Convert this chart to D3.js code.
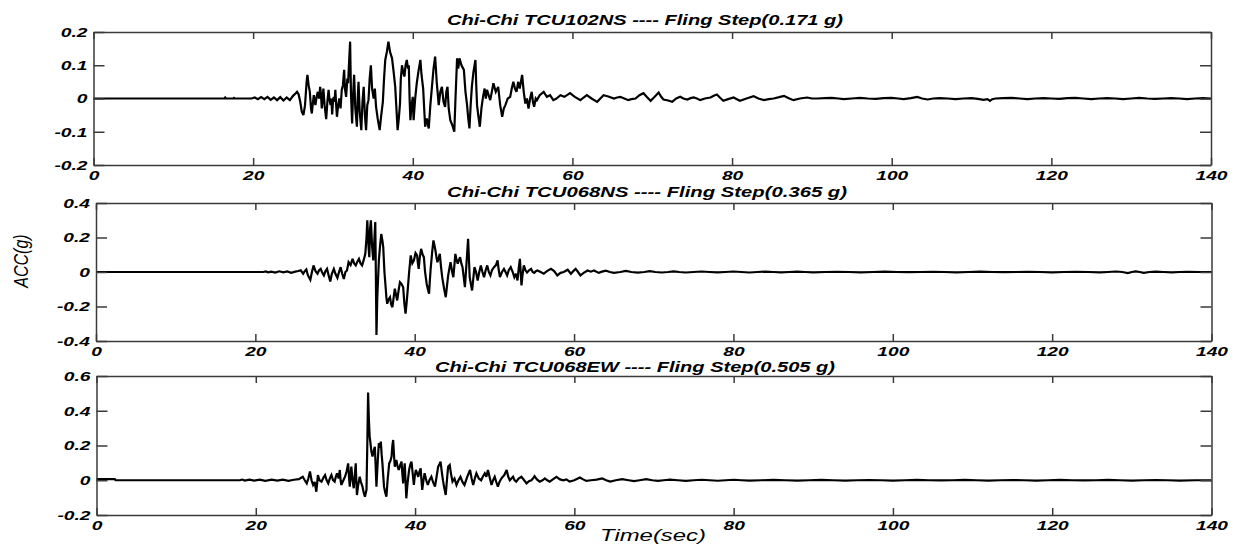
<!DOCTYPE html>
<html>
<head>
<meta charset="utf-8">
<script src="https://cdn.jsdelivr.net/npm/d3@7"></script>
<style>
  html, body { margin: 0; padding: 0; background: #ffffff; }
  svg { display: block; }
  .tick text { font-family: "Liberation Sans", Arial, sans-serif; font-weight: bold; font-style: italic; font-size: 12px; fill: #000; }
</style>
</head>
<body>
<script>
// ---- Data: ground acceleration records (time in s, acceleration in g) ----
const timeTicks = [0, 20, 40, 60, 80, 100, 120, 140];
const timeTickLabels = ["0", "20", "40", "60", "80", "100", "120", "140"];

const titles = [
  "Chi-Chi TCU102NS ---- Fling Step(0.171 g)",
  "Chi-Chi TCU068NS ---- Fling Step(0.365 g)",
  "Chi-Chi TCU068EW ---- Fling Step(0.505 g)"
];

const accTicks102NS = [-0.2, -0.1, 0, 0.1, 0.2];
const accTickLabels102NS = ["-0.2", "-0.1", "0", "0.1", "0.2"];
const accTicks068NS = [-0.4, -0.2, 0, 0.2, 0.4];
const accTickLabels068NS = ["-0.4", "-0.2", "0", "0.2", "0.4"];
const accTicks068EW = [-0.2, 0, 0.2, 0.4, 0.6];
const accTickLabels068EW = ["-0.2", "0", "0.2", "0.4", "0.6"];

const tcu102NS = [
  [0, 0], [16.4, 0], [16.5, 0.003], [16.6, 0], [17.5, 0], [17.6, 0.002], [17.7, 0], [19.8, 0],
  [20.2, 0.003], [20.6, -0.002], [21.0, 0.004], [21.4, -0.002], [21.8, 0.005], [22.2, -0.004],
  [22.6, 0.003], [23.0, -0.005], [23.4, 0.004], [23.8, -0.006], [24.2, 0.003], [24.6, -0.005],
  [25.0, 0.008], [25.3, 0.015], [25.5, 0.02], [25.7, 0.012], [25.9, -0.01], [26.1, -0.04],
  [26.3, -0.05], [26.5, -0.02], [26.7, 0.05], [26.8, 0.071], [26.95, 0.04], [27.1, 0.02],
  [27.25, -0.03], [27.35, -0.045], [27.5, -0.01], [27.6, 0.01], [27.7, -0.005], [27.8, -0.02],
  [27.95, 0.005], [28.1, 0.02], [28.25, 0.0], [28.4, 0.035], [28.5, 0.01], [28.6, -0.03],
  [28.7, 0.0], [28.8, 0.03], [28.95, -0.02], [29.15, -0.062], [29.3, -0.01], [29.45, 0.026],
  [29.55, 0.0], [29.7, -0.02], [29.8, 0.0], [29.9, -0.048], [30.0, -0.01], [30.1, 0.005],
  [30.2, -0.01], [30.3, 0.026], [30.4, -0.02], [30.5, -0.055], [30.65, -0.02], [30.8, 0.0],
  [30.95, -0.03], [31.1, 0.026], [31.25, 0.04], [31.4, 0.086], [31.5, 0.03], [31.65, 0.005],
  [31.8, 0.06], [31.9, 0.046], [32.0, 0.1], [32.15, 0.171], [32.25, 0.02], [32.4, -0.075],
  [32.5, 0.0], [32.65, 0.071], [32.8, -0.03], [33.0, -0.085], [33.1, 0.0], [33.2, 0.05],
  [33.35, -0.04], [33.55, -0.095], [33.7, -0.01], [33.85, 0.035], [34.0, -0.05], [34.15, -0.095],
  [34.3, -0.02], [34.45, -0.005], [34.6, 0.06], [34.75, 0.1], [34.9, 0.03], [35.1, 0.0],
  [35.25, 0.03], [35.4, -0.025], [35.6, -0.06], [35.85, -0.095], [36.05, -0.05], [36.25, -0.01],
  [36.4, 0.06], [36.55, 0.116], [36.75, 0.14], [36.95, 0.171], [37.15, 0.14], [37.4, 0.121],
  [37.6, 0.08], [37.8, 0.035], [37.95, -0.03], [38.1, -0.095], [38.25, -0.06], [38.4, -0.015],
  [38.5, 0.06], [38.65, 0.1], [38.8, 0.08], [38.95, 0.066], [39.1, 0.1], [39.25, 0.116],
  [39.4, 0.09], [39.5, 0.1], [39.6, 0.0], [39.7, -0.065], [39.85, -0.02], [40.0, 0.005],
  [40.1, -0.065], [40.3, 0.0], [40.5, 0.046], [40.7, 0.08], [40.95, 0.116], [41.1, 0.07],
  [41.3, 0.03], [41.45, -0.04], [41.55, -0.085], [41.75, -0.06], [42.0, -0.09], [42.2, -0.02],
  [42.4, 0.035], [42.6, 0.09], [42.8, 0.126], [43.0, 0.05], [43.25, -0.02], [43.45, 0.02],
  [43.65, 0.035], [43.85, -0.01], [44.05, -0.025], [44.2, 0.02], [44.35, 0.035], [44.5, -0.03],
  [44.7, -0.065], [44.95, -0.08], [45.2, -0.1], [45.35, 0.0], [45.55, 0.121], [45.7, 0.09],
  [45.85, 0.121], [46.1, 0.1], [46.4, 0.086], [46.6, 0.02], [46.8, -0.02], [46.95, -0.06],
  [47.1, -0.09], [47.25, -0.02], [47.4, 0.035], [47.6, 0.08], [47.85, 0.116], [47.95, 0.04],
  [48.05, -0.02], [48.2, -0.05], [48.4, -0.085], [48.6, -0.03], [48.8, 0.005], [49.0, 0.03],
  [49.15, 0.0], [49.3, 0.026], [49.5, 0.01], [49.7, -0.005], [49.9, 0.02], [50.1, 0.046],
  [50.4, 0.02], [50.7, 0.035], [50.95, -0.02], [51.2, -0.055], [51.4, -0.03], [51.6, -0.02],
  [51.9, 0.0], [52.2, 0.005], [52.4, 0.03], [52.6, 0.05], [52.8, 0.03], [53.0, 0.02],
  [53.2, 0.05], [53.4, 0.03], [53.7, 0.071], [53.9, 0.02], [54.1, -0.015], [54.3, 0.0],
  [54.5, -0.03], [54.7, 0.0], [54.9, 0.02], [55.05, -0.01], [55.2, -0.025], [55.4, 0.0],
  [55.55, -0.005], [55.9, 0.01], [56.4, 0.02], [56.8, 0.005], [57.2, 0.01], [57.6, -0.005],
  [58.0, 0.0], [58.5, 0.01], [59.0, 0.005], [59.7, 0.016], [60.3, 0.005], [61.0, -0.005],
  [61.4, 0.003], [61.8, 0.01], [62.4, 0.0], [63.1, -0.01], [63.5, 0.0], [63.9, 0.01],
  [64.5, 0.006], [65.2, 0.0], [65.6, 0.003], [66.0, 0.005], [66.5, 0.0], [67.0, -0.005],
  [67.4, -0.002], [67.9, 0.0], [68.4, 0.01], [68.9, 0.016], [69.3, 0.005], [69.8, -0.007],
  [70.3, 0.005], [70.8, 0.018], [71.1, 0.006], [71.4, -0.003], [72.0, -0.006], [72.5, -0.01],
  [73.0, 0.0], [73.5, 0.005], [73.9, 0.0], [74.4, -0.003], [74.8, 0.001], [75.2, 0.003],
  [75.6, 0.0], [76.0, -0.005], [76.6, 0.0], [77.3, 0.003], [77.7, 0.008], [78.1, 0.012],
  [78.5, 0.002], [78.9, -0.007], [79.5, -0.002], [80.2, 0.003], [80.6, -0.002], [81.0, -0.007],
  [81.8, 0.0], [82.7, 0.007], [83.3, 0.0], [84.0, -0.005], [84.6, -0.002], [85.2, 0.0],
  [85.9, 0.004], [86.5, 0.008], [87.1, 0.001], [87.7, -0.005], [88.5, 0.0], [89.4, 0.003],
  [90.0, 0.0], [90.7, 0.0], [91.6, 0.001], [92.5, 0.002], [93.3, 0.0], [94.0, -0.002],
  [95.0, 0.0], [96.0, 0.002], [97.0, 0.0], [98.0, -0.001], [99.0, 0.001], [100.0, 0.002],
  [100.8, 0.0], [101.5, -0.002], [102.4, 0.001], [103.2, 0.005], [103.8, 0.0], [104.5, -0.003],
  [105.2, 0.0], [106.0, 0.001], [107.0, 0.0], [108.0, -0.002], [109.0, 0.0], [110.0, 0.001],
  [110.8, -0.001], [111.5, -0.004], [112.0, -0.002], [112.3, -0.007], [112.6, -0.002], [113.0, 0.0],
  [114.0, 0.001], [115.0, 0.002], [116.0, 0.0], [117.0, -0.002], [118.0, 0.0], [119.0, 0.001],
  [120.0, 0.0], [121.0, -0.001], [122.0, 0.001], [123.0, 0.002], [124.0, 0.0], [125.0, -0.002],
  [126.0, 0.0], [127.0, 0.001], [128.0, 0.0], [129.0, -0.002], [130.0, 0.0], [131.0, 0.002],
  [132.0, 0.0], [133.0, -0.001], [134.0, 0.0], [135.0, 0.001], [136.0, 0.0], [137.0, -0.002],
  [138.0, 0.0], [139.0, 0.001], [140.0, 0.0]
];

const tcu068NS = [
  [0, 0], [21.0, 0], [21.3, 0.003], [21.6, -0.002], [22.0, 0.002], [22.5, -0.003], [23.0, 0.004],
  [23.5, -0.002], [24.0, 0.003], [24.5, -0.005], [25.0, 0.002], [25.4, 0.006], [25.7, 0.01],
  [26.0, -0.01], [26.2, 0.005], [26.4, 0.015], [26.6, -0.02], [26.9, -0.045], [27.1, 0.0],
  [27.3, 0.038], [27.55, 0.005], [27.8, -0.01], [28.0, 0.01], [28.2, 0.018], [28.4, -0.005],
  [28.6, -0.02], [28.8, 0.005], [29.0, 0.018], [29.2, -0.02], [29.4, -0.055], [29.6, -0.01],
  [29.85, 0.018], [30.05, -0.01], [30.3, -0.034], [30.5, 0.0], [30.7, 0.028], [30.9, -0.01],
  [31.1, -0.04], [31.3, 0.0], [31.5, 0.009], [31.7, 0.057], [31.95, 0.04], [32.2, 0.076],
  [32.4, 0.05], [32.6, 0.038], [32.8, 0.06], [33.0, 0.076], [33.2, 0.05], [33.4, 0.038],
  [33.6, 0.07], [33.8, 0.105], [33.95, 0.2], [34.05, 0.3], [34.2, 0.15], [34.3, 0.086],
  [34.4, 0.25], [34.5, 0.3], [34.65, 0.15], [34.8, 0.067], [34.95, 0.2], [35.05, 0.29],
  [35.12, 0.0], [35.2, -0.365], [35.3, -0.15], [35.5, 0.067], [35.65, 0.15], [35.8, 0.22],
  [35.95, 0.18], [36.05, 0.144], [36.2, 0.0], [36.35, -0.088], [36.45, -0.15], [36.55, -0.184],
  [36.7, -0.16], [36.9, -0.146], [37.05, -0.19], [37.2, -0.204], [37.35, -0.15], [37.5, -0.097],
  [37.65, -0.13], [37.8, -0.165], [38.0, -0.1], [38.15, -0.059], [38.35, -0.07], [38.55, -0.088],
  [38.7, -0.18], [38.85, -0.242], [39.0, -0.17], [39.15, -0.088], [39.3, 0.0], [39.5, 0.096],
  [39.7, 0.05], [39.9, 0.067], [40.1, 0.11], [40.3, 0.096], [40.4, 0.05], [40.5, 0.018],
  [40.65, 0.09], [40.8, 0.134], [41.0, 0.1], [41.15, 0.086], [41.3, 0.0], [41.5, -0.068],
  [41.65, -0.1], [41.8, -0.126], [41.9, -0.05], [42.0, 0.018], [42.2, 0.12], [42.35, 0.183],
  [42.5, 0.15], [42.6, 0.125], [42.75, 0.08], [42.85, 0.057], [43.0, 0.08], [43.15, 0.105],
  [43.3, 0.03], [43.45, -0.03], [43.7, -0.1], [43.9, -0.146], [44.05, -0.08], [44.2, -0.02],
  [44.35, 0.02], [44.5, 0.057], [44.7, 0.0], [44.85, -0.03], [45.0, 0.05], [45.1, 0.105],
  [45.25, 0.07], [45.4, 0.048], [45.55, 0.07], [45.7, 0.086], [45.85, 0.05], [46.0, 0.028],
  [46.15, -0.03], [46.3, -0.088], [46.5, 0.05], [46.7, 0.192], [46.8, 0.08], [46.9, -0.03],
  [47.05, -0.07], [47.2, -0.107], [47.35, -0.04], [47.5, 0.028], [47.7, 0.0], [47.9, -0.049],
  [48.1, 0.0], [48.3, 0.038], [48.5, 0.0], [48.7, -0.03], [48.9, 0.01], [49.1, 0.038],
  [49.3, 0.0], [49.5, -0.02], [49.7, 0.01], [49.95, 0.028], [50.2, 0.04], [50.4, 0.067],
  [50.55, 0.01], [50.7, -0.03], [50.95, 0.0], [51.2, 0.018], [51.4, 0.0], [51.6, -0.02],
  [51.8, 0.01], [52.05, 0.028], [52.3, 0.0], [52.5, -0.03], [52.7, -0.01], [52.9, -0.049],
  [53.05, 0.02], [53.2, 0.076], [53.3, 0.0], [53.4, -0.078], [53.55, -0.01], [53.7, 0.038],
  [53.9, 0.01], [54.1, -0.003], [54.35, 0.01], [54.6, 0.018], [54.8, 0.0], [55.0, -0.005],
  [55.2, 0.005], [55.4, 0.009], [55.8, 0.0], [56.2, -0.01], [56.6, 0.005], [57.1, 0.018],
  [57.5, 0.005], [57.9, -0.02], [58.3, -0.005], [58.7, 0.0], [59.2, 0.013], [59.6, -0.01],
  [59.9, 0.005], [60.2, 0.018], [60.5, 0.0], [60.8, -0.02], [61.2, -0.005], [61.7, 0.009],
  [62.1, 0.002], [62.5, 0.009], [63.1, -0.005], [63.5, 0.002], [64.0, 0.008], [64.5, 0.0],
  [65.0, -0.005], [65.8, 0.0], [66.5, 0.006], [67.2, 0.0], [68.0, -0.004], [68.8, 0.0],
  [69.5, 0.005], [70.2, 0.0], [71.0, -0.003], [71.8, 0.0], [72.5, 0.004], [73.2, 0.0],
  [74.0, -0.003], [75.0, 0.0], [76.0, 0.003], [77.0, 0.0], [78.0, -0.002], [79.0, 0.0],
  [80.0, 0.003], [81.0, 0.0], [82.0, -0.003], [83.0, 0.0], [84.0, 0.002], [85.0, 0.0],
  [86.0, -0.002], [87.0, 0.0], [88.0, 0.002], [89.0, 0.0], [90.0, -0.002], [91.5, 0.0],
  [93.0, 0.001], [94.5, 0.0], [96.0, -0.002], [97.5, 0.0], [99.0, 0.002], [100.5, 0.0],
  [102.0, -0.001], [103.5, 0.0], [105.0, 0.001], [106.5, 0.0], [108.0, -0.002], [109.5, 0.0],
  [111.0, 0.002], [112.5, 0.0], [114.0, -0.001], [115.5, 0.0], [117.0, 0.001], [118.5, 0.0],
  [120.0, -0.002], [121.5, 0.0], [123.0, 0.001], [124.5, 0.0], [126.0, -0.002], [127.0, 0.0],
  [128.0, 0.003], [128.8, 0.0], [129.5, -0.006], [130.0, 0.0], [130.5, 0.004], [131.0, 0.0],
  [131.5, -0.005], [132.2, 0.0], [133.0, 0.002], [134.0, 0.0], [135.0, -0.002], [136.0, 0.0],
  [137.0, 0.001], [138.5, 0.0], [140.0, 0.0]
];

const tcu068EW = [
  [0, 0.006], [2.3, 0.006], [2.4, 0], [18.0, 0], [18.3, 0.004], [18.6, -0.002], [19.2, 0.003],
  [19.8, -0.002], [20.5, 0.004], [21.2, -0.003], [22.0, 0.003], [22.7, -0.002], [23.4, 0.004],
  [24.1, -0.003], [24.8, 0.003], [25.4, 0.006], [25.9, 0.02], [26.15, 0.0], [26.4, -0.018],
  [26.6, 0.01], [26.8, 0.05], [27.0, 0.0], [27.2, -0.027], [27.4, -0.01], [27.6, -0.066],
  [27.7, -0.02], [27.8, 0.03], [28.0, 0.0], [28.25, -0.008], [28.5, 0.015], [28.7, 0.03],
  [28.9, 0.0], [29.1, -0.018], [29.3, 0.01], [29.5, 0.03], [29.7, 0.0], [29.9, -0.008],
  [30.05, 0.02], [30.2, 0.04], [30.4, 0.01], [30.55, 0.059], [30.65, 0.0], [30.75, -0.027],
  [31.0, 0.0], [31.2, 0.02], [31.4, 0.05], [31.6, 0.097], [31.7, 0.02], [31.8, -0.037],
  [31.9, 0.03], [32.0, 0.078], [32.15, 0.0], [32.3, -0.046], [32.45, 0.04], [32.55, 0.097],
  [32.62, 0.0], [32.7, -0.085], [32.85, -0.03], [33.05, 0.02], [33.2, -0.01], [33.4, -0.037],
  [33.55, -0.07], [33.7, -0.095], [33.9, -0.056], [34.0, 0.2], [34.1, 0.505], [34.2, 0.35],
  [34.3, 0.25], [34.4, 0.213], [34.5, 0.17], [34.65, 0.136], [34.8, 0.17], [34.95, 0.193],
  [35.05, 0.08], [35.15, -0.037], [35.3, 0.1], [35.45, 0.213], [35.6, 0.2], [35.7, 0.222],
  [35.8, 0.15], [35.9, 0.097], [36.0, 0.03], [36.1, -0.037], [36.25, -0.07], [36.4, -0.095],
  [36.55, 0.0], [36.75, 0.097], [36.9, 0.11], [37.05, 0.136], [37.15, 0.2], [37.25, 0.232],
  [37.35, 0.15], [37.45, 0.078], [37.55, 0.1], [37.65, 0.117], [37.8, 0.08], [37.95, 0.059],
  [38.15, 0.09], [38.3, 0.107], [38.4, 0.04], [38.5, -0.018], [38.6, 0.05], [38.7, 0.097],
  [38.8, 0.0], [38.9, -0.104], [39.05, -0.02], [39.25, 0.059], [39.4, 0.09], [39.55, 0.107],
  [39.7, 0.04], [39.85, -0.027], [39.95, 0.02], [40.1, 0.059], [40.25, 0.04], [40.4, 0.02],
  [40.55, 0.05], [40.7, 0.069], [40.8, 0.0], [40.9, -0.056], [41.05, 0.0], [41.2, 0.04],
  [41.4, 0.0], [41.6, -0.027], [41.8, 0.0], [42.05, 0.02], [42.25, -0.01], [42.5, -0.037],
  [42.7, 0.02], [42.9, 0.078], [43.05, 0.09], [43.2, 0.107], [43.35, 0.05], [43.5, 0.0],
  [43.65, -0.04], [43.85, -0.085], [44.0, 0.0], [44.15, 0.078], [44.35, 0.088], [44.5, 0.04],
  [44.7, -0.008], [44.95, 0.01], [45.2, -0.027], [45.45, 0.0], [45.7, 0.02], [45.95, -0.01],
  [46.2, -0.027], [46.55, 0.02], [46.9, 0.059], [47.1, 0.01], [47.3, -0.027], [47.5, 0.01],
  [47.7, 0.04], [48.0, 0.01], [48.3, 0.0], [48.5, 0.02], [48.75, 0.04], [48.95, 0.02],
  [49.15, 0.059], [49.4, 0.01], [49.6, -0.027], [49.8, 0.0], [50.0, 0.02], [50.2, -0.01],
  [50.4, -0.037], [50.6, -0.01], [50.85, 0.011], [51.2, 0.03], [51.5, 0.059], [51.7, 0.02],
  [51.9, 0.0], [52.1, 0.01], [52.3, 0.02], [52.5, 0.0], [52.7, -0.008], [53.0, 0.01],
  [53.35, 0.02], [53.7, 0.0], [54.0, -0.018], [54.3, -0.005], [54.6, 0.0], [54.8, 0.01],
  [55.0, 0.024], [55.3, 0.005], [55.65, -0.008], [56.0, 0.0], [56.3, 0.011], [56.6, 0.0],
  [56.9, -0.008], [57.3, 0.005], [57.75, 0.02], [58.2, 0.005], [58.6, 0.0], [59.0, 0.005],
  [59.4, -0.008], [60.0, 0.0], [60.7, 0.016], [61.1, 0.005], [61.5, -0.004], [62.1, 0.0],
  [62.8, 0.004], [63.5, 0.01], [64.0, 0.0], [64.5, -0.008], [65.2, 0.0], [66.0, 0.006],
  [66.8, 0.0], [67.5, -0.005], [68.2, 0.0], [69.0, 0.006], [69.8, 0.0], [70.5, -0.004],
  [71.2, 0.0], [72.0, 0.004], [73.0, 0.0], [74.0, -0.004], [75.0, 0.0], [76.0, 0.003],
  [77.0, 0.0], [78.0, -0.003], [79.0, 0.0], [80.0, 0.003], [81.0, 0.0], [82.0, -0.002],
  [83.5, 0.0], [85.0, 0.002], [86.5, 0.0], [88.0, -0.002], [89.5, 0.0], [91.0, 0.002],
  [92.5, 0.0], [94.0, -0.002], [95.5, 0.0], [97.0, 0.001], [98.5, 0.0], [100.0, -0.002],
  [101.5, 0.0], [103.0, 0.002], [104.5, 0.0], [106.0, -0.001], [107.5, 0.0], [109.0, 0.002],
  [110.5, 0.0], [112.0, -0.002], [113.5, 0.0], [115.0, 0.001], [116.5, 0.0], [118.0, -0.002],
  [119.5, 0.0], [121.0, 0.002], [122.5, 0.0], [124.0, -0.001], [125.5, 0.0], [127.0, 0.002],
  [128.5, 0.0], [130.0, -0.002], [131.5, 0.0], [133.0, 0.001], [134.5, 0.0], [136.0, -0.002],
  [138.0, 0.0], [140.0, 0.0]
];

// ---- Layout ----
const W = 1235, H = 545;
const panels = [
  { series: tcu102NS, ticks: accTicks102NS, labels: accTickLabels102NS, title: titles[0],
    left: 93.5, right: 1211, top: 32, bottom: 165, titleX: 645, titleY: 25, titleW: 396 },
  { series: tcu068NS, ticks: accTicks068NS, labels: accTickLabels068NS, title: titles[1],
    left: 96, right: 1211.5, top: 203, bottom: 341, titleX: 647, titleY: 197, titleW: 400 },
  { series: tcu068EW, ticks: accTicks068EW, labels: accTickLabels068EW, title: titles[2],
    left: 96.5, right: 1211.5, top: 376, bottom: 515, titleX: 635, titleY: 372, titleW: 400 }
];

const stretch = 1.6;       // horizontal widening of the axis lettering
const frameColor = "#3a3a3a";

const svg = d3.select("body").append("svg")
  .attr("width", W).attr("height", H)
  .attr("viewBox", `0 0 ${W} ${H}`);

panels.forEach(p => {
  const x = d3.scaleLinear().domain([0, 140]).range([p.left, p.right]);
  const y = d3.scaleLinear().domain([p.ticks[0], p.ticks[p.ticks.length - 1]]).range([p.bottom, p.top]);
  const g = svg.append("g");

  // trace
  const line = d3.line().x(d => x(d[0])).y(d => y(d[1]));
  g.append("path")
    .datum(p.series)
    .attr("d", line)
    .attr("fill", "none")
    .attr("stroke", "#000")
    .attr("stroke-width", 2.2)
    .attr("stroke-linejoin", "miter")
    .attr("stroke-miterlimit", 3);

  // bottom axis with labels, ticks pointing inward
  const bottom = g.append("g")
    .attr("transform", `translate(0,${p.bottom})`)
    .call(d3.axisBottom(x).tickValues(timeTicks)
      .tickFormat((d, i) => timeTickLabels[i])
      .tickSizeInner(-7).tickSizeOuter(0).tickPadding(0));
  bottom.selectAll(".tick text")
    .attr("y", null).attr("dy", null)
    .attr("text-anchor", "middle")
    .attr("transform", `translate(0,15) scale(${stretch},1)`);

  // top axis, ticks only
  g.append("g")
    .attr("transform", `translate(0,${p.top})`)
    .call(d3.axisTop(x).tickValues(timeTicks).tickFormat("")
      .tickSizeInner(-7).tickSizeOuter(0));

  // left axis with labels
  const left = g.append("g")
    .attr("transform", `translate(${p.left},0)`)
    .call(d3.axisLeft(y).tickValues(p.ticks)
      .tickFormat((d, i) => p.labels[i])
      .tickSizeInner(-11).tickSizeOuter(0).tickPadding(0));
  left.selectAll(".tick text")
    .attr("x", 0).attr("dy", "0.36em")
    .attr("text-anchor", "end")
    .attr("transform", `translate(-6,0) scale(${stretch},1)`);

  // right axis, ticks only
  g.append("g")
    .attr("transform", `translate(${p.right},0)`)
    .call(d3.axisRight(y).tickValues(p.ticks).tickFormat("")
      .tickSizeInner(-11).tickSizeOuter(0));

  g.selectAll(".domain, .tick line")
    .attr("stroke", frameColor)
    .attr("stroke-width", 1.5);

  // panel title
  svg.append("text")
    .attr("x", p.titleX).attr("y", p.titleY)
    .attr("text-anchor", "middle")
    .attr("textLength", p.titleW)
    .attr("lengthAdjust", "spacingAndGlyphs")
    .style("font-family", "'Liberation Sans', Arial, sans-serif")
    .style("font-weight", "bold").style("font-style", "italic")
    .style("font-size", "14px")
    .text(p.title);
});

// shared axis titles
svg.append("text")
  .attr("x", 653).attr("y", 541)
  .attr("text-anchor", "middle")
  .attr("textLength", 106)
  .attr("lengthAdjust", "spacingAndGlyphs")
  .style("font-family", "'Liberation Sans', Arial, sans-serif")
  .style("font-style", "italic")
  .style("font-size", "16px")
  .text("Time(sec)");

svg.append("text")
  .attr("transform", "translate(21,261) scale(1.3,1) rotate(-90)")
  .attr("text-anchor", "middle")
  .attr("dy", "0.35em")
  .style("font-family", "'Liberation Sans', Arial, sans-serif")
  .style("font-style", "italic")
  .style("font-size", "16px")
  .text("ACC(g)");
</script>
</body>
</html>
